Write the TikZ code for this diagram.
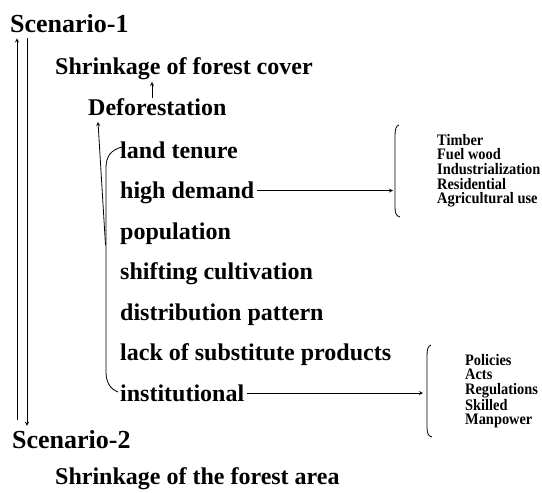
\documentclass[tikz,border=0pt]{standalone}
\usepackage{fontspec}
\setmainfont{Liberation Serif}
\newfontfamily\narrowserif[FakeStretch=0.9]{Liberation Serif}
\usetikzlibrary{arrows, positioning}
\tikzstyle{scenario} = [anchor=base west, inner sep=0pt, font=\fontsize{26}{30}\selectfont\bfseries]
\tikzstyle{level} = [anchor=base west, inner sep=0pt, font=\fontsize{24}{28}\selectfont\bfseries]
\tikzstyle{cause} = [level]
\tikzstyle{sublist} = [anchor=north west, inner sep=0pt, align=left, font=\narrowserif\fontsize{16}{14.6}\selectfont\bfseries]
\tikzstyle{arrow} = [line width=0.8pt,->,>=stealth]
\tikzstyle{bracket} = [line width=0.8pt]

\begin{document}
\begin{tikzpicture}[x=1pt, y=-1pt, node distance=40.5pt]
    \useasboundingbox (0,0) rectangle (542,493);

    \node (scenone)     [scenario] at (10,32)  {Scenario-1};
    \node (shrinkcover) [level]    at (55,74)  {Shrinkage of forest cover};
    \node (deforest)    [level]    at (88,115) {Deforestation};

    \node (landtenure)   [cause] at (120,158)                        {land tenure};
    \node (highdemand)   [below=of landtenure.base west, cause]   {high demand};
    \node (population)   [below=of highdemand.base west, cause]   {population};
    \node (shifting)     [below=of population.base west, cause]   {shifting cultivation};
    \node (distribution) [below=of shifting.base west, cause]     {distribution pattern};
    \node (substitute)   [below=of distribution.base west, cause] {lack of substitute products};
    \node (institution)  [below=of substitute.base west, cause]   {institutional};

    \node (scentwo)    [scenario] at (12,448) {Scenario-2};
    \node (shrinkarea) [level]    at (55,484) {Shrinkage of the forest area};

    \node (demandlist) [sublist] at (437,134) {Timber\\Fuel wood\\Industrialization\\Residential\\Agricultural use};
    \node (instlist)   [sublist] at (465,354) {Policies\\Acts\\Regulations\\Skilled\\Manpower};

    \coordinate (demandtip) at (393,190.5);
    \coordinate (insttip)   at (423,393);
    \coordinate (causejoin) at (105.5,245);

    % brackets
    \draw [bracket] (399,125) .. controls (396,126) and (395,129) .. (395,136) -- (395,207) .. controls (395,213) and (396,216) .. (400,217);
    \draw [bracket] (431,345) .. controls (428,346) and (427,349) .. (427,356) -- (427,427) .. controls (427,433) and (428,436) .. (432,437);
    \draw [bracket] (122,147) .. controls (111,150) and (106,156) .. (106,168) -- (106,372) .. controls (106,382) and (110,389) .. (118,392);

    \draw [arrow] ([xshift=5pt,yshift=10pt]scentwo.north west)  -- ([xshift=7pt,yshift=-6pt]scenone.south west);
    \draw [arrow] ([xshift=17pt,yshift=-6pt]scenone.south west) -- ([xshift=15pt,yshift=4pt]scentwo.north west);
    \draw [arrow] ([xshift=64pt]deforest.north west)            -- ++(0,-16);
    \draw [arrow] (causejoin)                                    -- ([xshift=10pt,yshift=-7pt]deforest.base west);
    \draw [arrow] ([xshift=3pt,yshift=8pt]highdemand.base east)  -- (demandtip);
    \draw [arrow] ([xshift=3pt,yshift=8pt]institution.base east) -- (insttip);

\end{tikzpicture}
\end{document}
